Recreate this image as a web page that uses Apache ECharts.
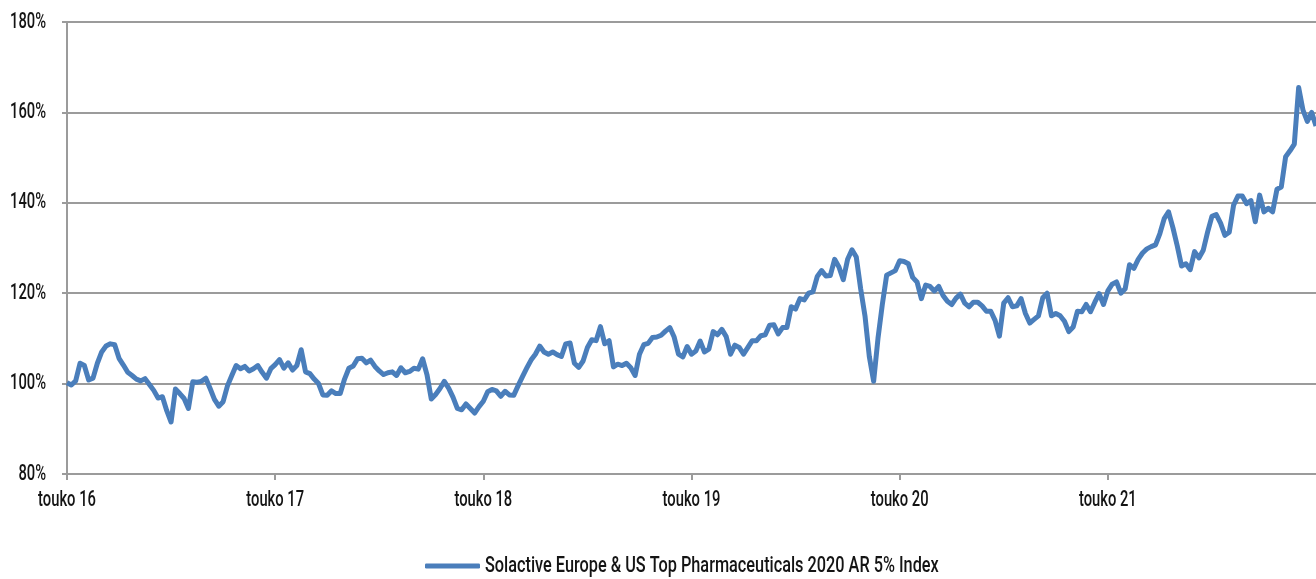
<!DOCTYPE html>
<html>
<head>
<meta charset="utf-8">
<script src="https://cdn.jsdelivr.net/npm/echarts@6/dist/echarts.min.js"></script>
<style>
  html, body { margin: 0; padding: 0; background: #fff; }
  #chart { width: 1316px; height: 579px; }
</style>
</head>
<body>
<div id="chart"></div>
<script>
// weekly readings, one every quarter month starting touko 2016
var seriesName = 'Solactive Europe & US Top Pharmaceuticals 2020 AR 5% Index';
var tickLabels = ['touko 16', 'touko 17', 'touko 18', 'touko 19', 'touko 20', 'touko 21'];
var stepMonths = 0.25;
var yTicks = [80, 100, 120, 140, 160, 180];

var indexValues = [
  100.2, 99.7, 100.6, 104.5, 104, 100.8, 101.2, 104.5, 107, 108.3,
  108.8, 108.6, 105.6, 104.1, 102.5, 101.8, 101, 100.6, 101.1, 99.8,
  98.5, 96.8, 97.1, 94, 91.5, 98.8, 97.8, 96.7, 94.5, 100.4,
  100.3, 100.5, 101.2, 98.9, 96.5, 95, 96, 99.5, 101.8, 104,
  103.3, 103.8, 102.8, 103.3, 104, 102.5, 101.2, 103.3, 104.2, 105.3,
  103.4, 104.6, 103, 104, 107.5, 102.6, 102.2, 101, 100, 97.5,
  97.4, 98.4, 97.8, 97.8, 101, 103.4, 103.9, 105.5, 105.6, 104.6,
  105.2, 103.8, 102.8, 102, 102.4, 102.6, 101.8, 103.5, 102.4, 102.7,
  103.4, 103.2, 105.5, 102, 96.6, 97.6, 98.9, 100.5, 99, 97,
  94.5, 94.2, 95.5, 94.5, 93.5, 94.9, 96.1, 98.2, 98.7, 98.4,
  97.2, 98.3, 97.5, 97.4, 99.5, 101.5, 103.4, 105.2, 106.5, 108.3,
  107, 106.5, 107, 106.4, 106, 108.8, 109, 104.5, 103.6, 105,
  108, 109.7, 109.5, 112.6, 108.8, 109.5, 103.7, 104.3, 104, 104.5,
  103.5, 101.8, 106.5, 108.6, 108.9, 110.2, 110.3, 110.7, 111.6, 112.4,
  110.3, 106.5, 105.9, 108.2, 106.5, 107.2, 109.4, 107, 107.6, 111.5,
  110.8, 112, 110.4, 106.5, 108.5, 108, 106.5, 108, 109.5, 109.5,
  110.6, 110.8, 112.9, 113, 111, 112.4, 112.4, 117, 116.5, 118.8,
  118.5, 120, 120.3, 123.7, 125, 123.8, 123.9, 127.5, 125.8, 123,
  127.5, 129.6, 128, 121, 115, 106, 100.5, 110, 117.5, 124,
  124.5, 125, 127.2, 127, 126.5, 123.5, 122.5, 118.8, 121.8, 121.5,
  120.5, 121.5, 119.5, 118.2, 117.5, 118.9, 119.8, 117.8, 117, 118,
  118, 117.2, 116, 116, 114, 110.5, 117.8, 119, 117, 117.2,
  118.8, 115.5, 113.4, 114.2, 115, 119, 120, 115, 115.5, 115,
  113.8, 111.5, 112.5, 116, 115.9, 117.5, 115.9, 118, 119.9, 117.5,
  120.5, 122, 122.5, 120, 121, 126.3, 125.5, 127.5, 128.9, 129.8,
  130.3, 130.7, 133.2, 136.5, 138, 134.5, 130.5, 126, 126.5, 125.2,
  129.2, 127.8, 129.5, 133.5, 137, 137.4, 135.5, 132.8, 133.5, 139.5,
  141.5, 141.5, 139.8, 140.5, 135.8, 141.7, 138, 138.8, 138, 143,
  143.5, 150.2, 151.5, 153, 165.5, 160.5, 158, 160, 157
];

var points = indexValues.map(function (v, i) { return [i * stepMonths, v]; });

// no condensed face installed: squeeze glyphs horizontally around their anchor
// (the legend caption runs a little wider than the axis labels in the original)
var rawFillText = CanvasRenderingContext2D.prototype.fillText;
CanvasRenderingContext2D.prototype.fillText = function (text, x, y) {
  var squeeze = text === seriesName ? 0.74 : 0.67;
  this.save();
  this.translate(x, y);
  this.scale(squeeze, 1);
  rawFillText.call(this, text, 0, 0);
  this.restore();
};

var font = 'Roboto, sans-serif';
var gray = '#9b9b9b';
var ink = '#141414';

var chart = echarts.init(document.getElementById('chart'));
chart.setOption({
  animation: false,
  grid: {
    left: 67, right: 0, top: 22, bottom: 105,
    containLabel: false,
    outerBoundsMode: 'none'
  },
  legend: {
    left: 425,
    top: 555,
    padding: 0,
    icon: 'roundRect',
    itemWidth: 55,
    itemHeight: 5,
    textStyle: { fontFamily: font, fontSize: 22, fontWeight: 500, color: ink },
    data: [seriesName]
  },
  xAxis: {
    type: 'value',
    min: 0,
    max: 72,
    interval: 12,
    axisLine: { lineStyle: { color: gray, width: 2 } },
    axisTick: { show: true, length: 6, lineStyle: { color: gray, width: 2 } },
    splitLine: { show: false },
    axisLabel: {
      margin: 15,
      fontFamily: font,
      fontSize: 22,
      fontWeight: 500,
      color: ink,
      showMaxLabel: false,
      formatter: function (v) { return tickLabels[v / 12] || ''; }
    }
  },
  yAxis: {
    type: 'value',
    min: yTicks[0],
    max: yTicks[yTicks.length - 1],
    interval: 20,
    axisLine: { show: true, lineStyle: { color: gray, width: 2 } },
    axisTick: { show: true, length: 5, lineStyle: { color: gray, width: 2 } },
    splitLine: { lineStyle: { color: gray, width: 2 } },
    axisLabel: {
      margin: 21,
      fontFamily: font,
      fontSize: 22,
      fontWeight: 500,
      color: ink,
      padding: [0, 0, 4, 0],
      formatter: function (v) { return v + '%'; }
    }
  },
  series: [{
    name: seriesName,
    type: 'line',
    data: points,
    showSymbol: false,
    color: '#4a7ebb',
    lineStyle: { width: 5, color: '#4a7ebb', join: 'round' }
  }]
});
</script>
</body>
</html>
